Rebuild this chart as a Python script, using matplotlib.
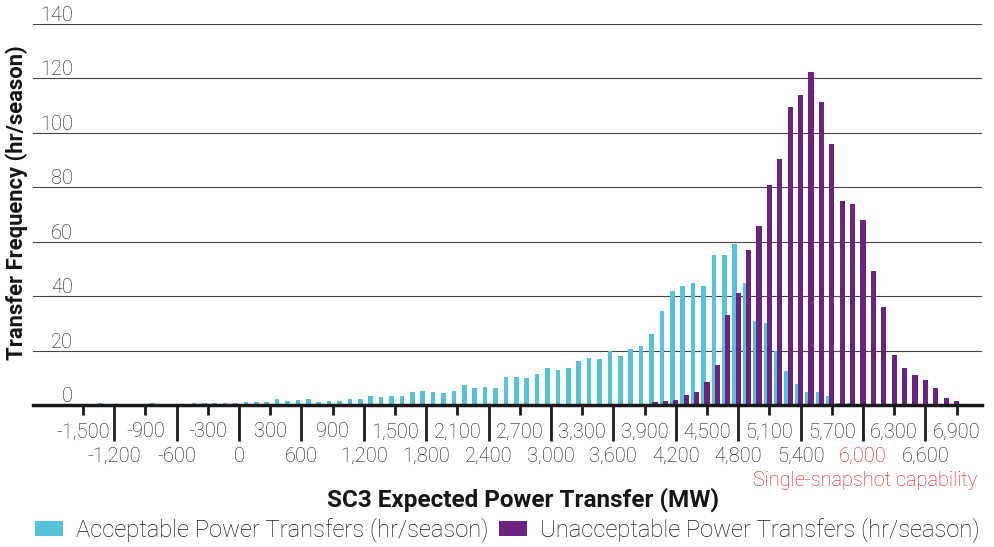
import numpy as np
import matplotlib
matplotlib.use('Agg')
import matplotlib.pyplot as plt

plt.rcParams['font.family'] = ['Roboto', 'DejaVu Sans']

CYAN = '#55c2d6'
PURPLE = '#6a2381'
RED = '#d8140e'
INK = '#151515'

# hours per season in each 100 MW bin (bin centre in MW)
acceptable_mw = np.arange(-1300, 6000, 100)
acceptable = [
    0.8, 0, 0, 0, 0, 0.8, 0, 0, 0, 0.9,
    0.9, 0.9, 0.9, 0.9, 1.1, 1.0, 1.1, 2.1, 1.6, 1.9,
    2.1, 1.1, 1.5, 1.5, 2.1, 2.35, 3.25, 3.0, 3.3, 3.3,
    4.75, 5.05, 4.75, 4.4, 5.1, 7.4, 6.2, 6.7, 6.2, 10.2,
    10.2, 10.0, 11.4, 13.5, 12.9, 13.7, 16.2, 17.1, 16.8, 19.8,
    18.0, 20.7, 21.8, 26.0, 34.5, 41.8, 43.6, 44.8, 43.8, 55.0,
    55.3, 59.3, 44.8, 30.9, 30.3, 20.0, 12.6, 7.9, 4.9, 4.9,
    3.2, 0.8, 0.8,
]

unacceptable_mw = np.arange(4000, 7000, 100)
unacceptable = [
    1.0, 1.3, 1.9, 3.7, 4.6, 8.4, 14.6, 33.0, 41.0, 57.0,
    65.6, 80.9, 90.3, 109.6, 114.0, 122.2, 111.3, 95.8, 74.8, 74.0,
    68.1, 49.2, 36.0, 18.4, 13.7, 11.2, 9.3, 6.4, 2.4, 1.3,
]

upper_ticks = [-1500, -900, -300, 300, 900, 1500, 2100, 2700, 3300, 3900,
               4500, 5100, 5700, 6300, 6900]
lower_ticks = [-1200, -600, 0, 600, 1200, 1800, 2400, 3000, 3600, 4200,
               4800, 5400, 6000, 6600]
y_ticks = [0, 20, 40, 60, 80, 100, 120, 140]

W, H = 995, 547
fig = plt.figure(figsize=(W / 100, H / 100), dpi=100)
ax = fig.add_axes([33 / W, (H - 405) / H, (982 - 33) / W, (405 - 24) / H])

acc = ax.bar(acceptable_mw - 33, acceptable, width=45, color=CYAN, zorder=2)
unacc = ax.bar(unacceptable_mw, unacceptable, width=50, color=PURPLE, zorder=3)

ax.set_xlim(-1980, 7145)
ax.set_ylim(0, 140)

# horizontal grid, labels sit on top of each line
ax.set_yticks(y_ticks)
ax.yaxis.grid(True, color='#444444', lw=0.8)
ax.set_axisbelow(True)
ax.tick_params(axis='y', length=0, labelleft=False)
for v in y_ticks:
    ax.text((73 - 33) / (982 - 33), v + 1.1, str(v), transform=ax.get_yaxis_transform(),
            ha='right', va='baseline', fontsize=14.4, fontweight='light', color=INK)

for s in ['top', 'right', 'left']:
    ax.spines[s].set_visible(False)
ax.spines['bottom'].set_linewidth(2.5)
ax.spines['bottom'].set_color('#1a1a1a')
ax.spines['bottom'].set_zorder(5)

# two staggered rows of x labels
ax.set_xticks(upper_ticks)
ax.set_xticklabels([f'{v:,}' for v in upper_ticks], fontweight='light')
ax.set_xticks(lower_ticks, minor=True)
ax.set_xticklabels([f'{v:,}' for v in lower_ticks], minor=True, fontweight='light')
ax.tick_params(axis='x', which='major', length=7.2, width=2, pad=5.3,
               labelsize=14.4, color='#1a1a1a', labelcolor=INK)
ax.tick_params(axis='x', which='minor', length=25.7, width=2, pad=4.3,
               labelsize=14.4, color='#1a1a1a', labelcolor=INK)
for lbl in ax.get_xticklabels(minor=True):
    if lbl.get_text() == '6,000':
        lbl.set_color(RED)

fig.text(977 / W, 1 - 480 / H, 'Single-snapshot capability', ha='right', va='center',
         color=RED, fontsize=14.4, fontweight='light')

fig.text(523 / W, 1 - 500 / H, 'SC3 Expected Power Transfer (MW)', ha='center',
         va='center', fontsize=17.5, fontweight='bold', color=INK)
fig.text(17 / W, 1 - 203 / H, 'Transfer Frequency (hr/season)', ha='center', va='center',
         rotation=90, fontsize=15.8, fontweight='bold', color=INK)

fig.legend([acc, unacc],
           ['Acceptable Power Transfers (hr/season)', 'Unacceptable Power Transfers (hr/season)'],
           loc='center left', bbox_to_anchor=(35 / W, 1 - 530 / H), ncol=2, frameon=False,
           prop={'size': 17.1, 'weight': 'light'}, handlelength=1.18, handleheight=0.59,
           handletextpad=0.55, columnspacing=0.45, borderpad=0, borderaxespad=0,
           labelcolor=INK)

fig.savefig('out.png', dpi=100)
